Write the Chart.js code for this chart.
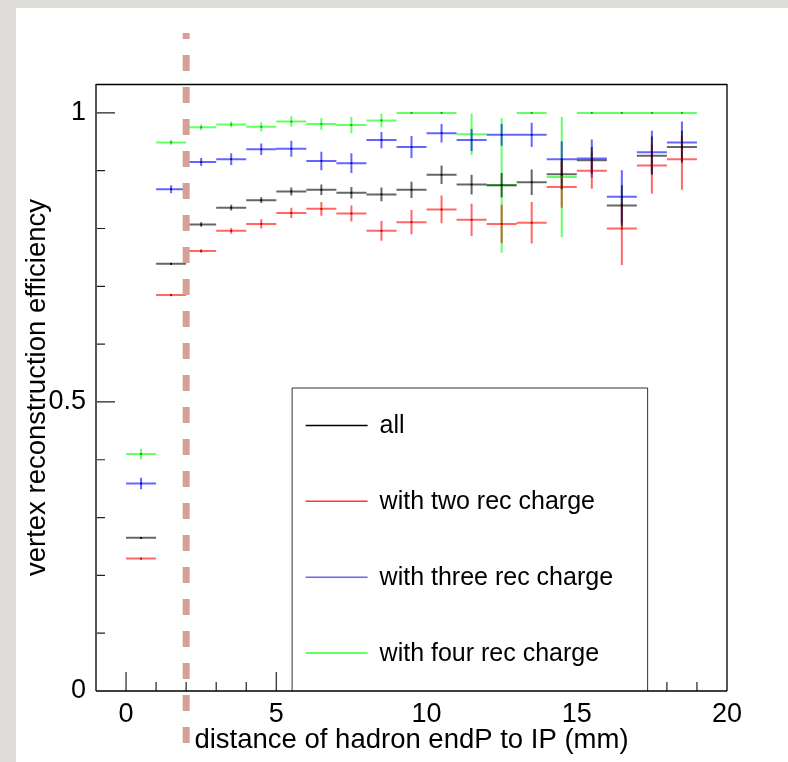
<!DOCTYPE html>
<html>
<head>
<meta charset="utf-8">
<title>vertex reconstruction efficiency</title>
<script src="https://cdn.jsdelivr.net/npm/chart.js@4.4.1/dist/chart.umd.min.js"></script>
<style>
    html, body { margin: 0; padding: 0; background: #fff; }
    #wrap { width: 788px; height: 762px; }
</style>
</head>
<body>
<div id="wrap"><canvas id="eff-chart" width="788" height="762"></canvas></div>
<script>
// Bin centres (mm), each bin 1 mm wide
var distance = [0.5, 1.5, 2.5, 3.5, 4.5, 5.5, 6.5, 7.5, 8.5, 9.5, 10.5, 11.5, 12.5, 13.5, 14.5, 15.5, 16.5, 17.5, 18.5];
var binWidth = 1;

// all
var effAll   = [0.265, 0.739, 0.807, 0.836, 0.849, 0.864, 0.867, 0.862, 0.859, 0.867, 0.893, 0.876, 0.875, 0.880, 0.894, 0.918, 0.840, 0.926, 0.941];
var errAllUp = [0.002, 0.002, 0.004, 0.005, 0.005, 0.007, 0.009, 0.010, 0.012, 0.014, 0.016, 0.017, 0.021, 0.022, 0.026, 0.023, 0.035, 0.033, 0.028];
var errAllDn = [0.002, 0.002, 0.004, 0.005, 0.005, 0.007, 0.009, 0.010, 0.012, 0.014, 0.016, 0.017, 0.021, 0.022, 0.026, 0.023, 0.037, 0.033, 0.025];

// with two rec charge
var effTwo   = [0.229, 0.685, 0.761, 0.796, 0.808, 0.827, 0.834, 0.826, 0.796, 0.811, 0.833, 0.815, 0.808, 0.810, 0.872, 0.900, 0.800, 0.909, 0.920];
var errTwoUp = [0.002, 0.002, 0.003, 0.005, 0.008, 0.009, 0.012, 0.014, 0.017, 0.021, 0.024, 0.028, 0.033, 0.036, 0.044, 0.031, 0.045, 0.036, 0.040];
var errTwoDn = [0.002, 0.002, 0.003, 0.005, 0.008, 0.009, 0.012, 0.014, 0.017, 0.021, 0.024, 0.028, 0.033, 0.036, 0.036, 0.031, 0.063, 0.049, 0.053];

// with three rec charge
var effThree   = [0.359, 0.868, 0.915, 0.920, 0.937, 0.938, 0.917, 0.913, 0.953, 0.941, 0.965, 0.953, 0.962, 0.962, 0.920, 0.921, 0.855, 0.932, 0.949];
var errThreeUp = [0.010, 0.007, 0.007, 0.010, 0.010, 0.014, 0.016, 0.017, 0.014, 0.019, 0.016, 0.019, 0.019, 0.021, 0.031, 0.033, 0.046, 0.037, 0.036];
var errThreeDn = [0.010, 0.007, 0.007, 0.010, 0.010, 0.014, 0.016, 0.017, 0.014, 0.019, 0.016, 0.019, 0.019, 0.021, 0.031, 0.033, 0.046, 0.037, 0.036];

// with four rec charge
var effFour   = [0.410, 0.949, 0.975, 0.980, 0.976, 0.985, 0.981, 0.979, 0.987, 1.000, 1.000, 0.963, 0.875, 1.000, 0.889, 1.000, 1.000, 1.000, 1.000];
var errFourUp = [0.009, 0.004, 0.005, 0.005, 0.008, 0.009, 0.010, 0.014, 0.012, 0, 0, 0.036, 0.116, 0, 0.104, 0, 0, 0, 0];
var errFourDn = [0.009, 0.004, 0.005, 0.005, 0.008, 0.009, 0.010, 0.014, 0.012, 0, 0, 0.036, 0.117, 0, 0.104, 0, 0, 0, 0];

var xTicks = [0, 5, 10, 15, 20];
var yTicks = [0, 0.5, 1];
var legendLabels = ["all", "with two rec charge", "with three rec charge", "with four rec charge"];
var cutDistance = 2;

(function () {
    "use strict";

    var FONT = "'Liberation Sans', Arial, Helvetica, sans-serif";
    var lineColors = ["rgba(0,0,0,0.6)", "rgba(255,0,0,0.6)", "rgba(0,0,255,0.6)", "rgba(0,255,0,0.6)"];
    var dotColors = ["#000", "#a00", "#00a", "#0a0"];
    var legendColors = ["#000", "#f33", "#66f", "#3f3"];
    var errUp = [errAllUp, errTwoUp, errThreeUp, errFourUp];
    var errDn = [errAllDn, errTwoDn, errThreeDn, errFourDn];

    function points(values) {
        return distance.map(function (x, i) { return { x: x, y: values[i] }; });
    }

    // ROOT-like frame, ticks, error bars, legend
    var rootStyle = {
        id: "rootStyle",
        beforeDraw: function (chart) {
            var ctx = chart.ctx;
            ctx.save();
            ctx.fillStyle = "#dddcd8";
            ctx.fillRect(0, 0, chart.width, chart.height);
            ctx.fillStyle = "#ffffff";
            ctx.fillRect(16, 8, chart.width - 16, chart.height - 8);
            ctx.restore();
        },
        beforeDatasetsDraw: function (chart) {
            var ctx = chart.ctx, a = chart.chartArea;
            var sx = chart.scales.x, sy = chart.scales.y;
            ctx.save();

            // inward ticks
            ctx.strokeStyle = "#222";
            ctx.lineWidth = 1.2;
            ctx.beginPath();
            for (var t = 0; t <= 19; t++) {
                var px = sx.getPixelForValue(t);
                var len = (t % 5 === 0) ? 19 : 9;
                ctx.moveTo(px, a.bottom);
                ctx.lineTo(px, a.bottom - len);
            }
            for (var k = 1; k <= 10; k++) {
                var py = sy.getPixelForValue(k / 10);
                var ylen = (k % 5 === 0) ? 19 : 9;
                ctx.moveTo(a.left, py);
                ctx.lineTo(a.left + ylen, py);
            }
            ctx.stroke();

            // error bars, green first so black ends on top
            ctx.lineWidth = 2;
            for (var d = chart.data.datasets.length - 1; d >= 0; d--) {
                var vals = chart.data.datasets[d].data;
                ctx.strokeStyle = lineColors[d];
                ctx.beginPath();
                for (var i = 0; i < vals.length; i++) {
                    var cx = sx.getPixelForValue(vals[i].x);
                    var x0 = sx.getPixelForValue(vals[i].x - binWidth / 2);
                    var x1 = sx.getPixelForValue(vals[i].x + binWidth / 2);
                    var cy = sy.getPixelForValue(vals[i].y);
                    ctx.moveTo(x0, cy);
                    ctx.lineTo(x1, cy);
                    ctx.moveTo(cx, sy.getPixelForValue(vals[i].y + errUp[d][i]));
                    ctx.lineTo(cx, sy.getPixelForValue(vals[i].y - errDn[d][i]));
                }
                ctx.stroke();
            }
            ctx.restore();
        },
        afterDatasetsDraw: function (chart) {
            var ctx = chart.ctx, a = chart.chartArea;
            var sx = chart.scales.x;
            var w = a.right - a.left, h = a.bottom - a.top;
            ctx.save();

            // legend box
            var lx0 = a.left + 0.31 * w, lx1 = a.left + 0.875 * w;
            var ly0 = a.top + 0.5 * h, ly1 = a.bottom;
            ctx.fillStyle = "#fff";
            ctx.fillRect(lx0, ly0, lx1 - lx0, ly1 - ly0);
            ctx.strokeStyle = "#333";
            ctx.lineWidth = 1;
            ctx.beginPath();
            ctx.moveTo(lx0 + 0.5, ly1);
            ctx.lineTo(lx0 + 0.5, ly0 + 0.5);
            ctx.lineTo(lx1 - 0.5, ly0 + 0.5);
            ctx.lineTo(lx1 - 0.5, ly1);
            ctx.stroke();

            var slot = (ly1 - ly0) / legendLabels.length;
            ctx.font = "25px " + FONT;
            ctx.textBaseline = "middle";
            ctx.textAlign = "left";
            legendLabels.forEach(function (label, i) {
                var yy = ly0 + slot * (i + 0.5);
                ctx.strokeStyle = legendColors[i];
                ctx.lineWidth = 1.5;
                ctx.beginPath();
                ctx.moveTo(lx0 + 14, yy);
                ctx.lineTo(lx0 + 76, yy);
                ctx.stroke();
                ctx.fillStyle = "#000";
                ctx.fillText(label, lx0 + 88, yy + 1);
            });

            // frame
            ctx.lineWidth = 2;
            ctx.strokeStyle = "#555";
            ctx.beginPath();
            ctx.moveTo(a.left, a.top);
            ctx.lineTo(a.left, a.bottom);
            ctx.moveTo(a.right, a.top);
            ctx.lineTo(a.right, a.bottom);
            ctx.stroke();
            ctx.lineWidth = 1.5;
            ctx.strokeStyle = "#000";
            ctx.beginPath();
            ctx.moveTo(a.left, a.top + 0.5);
            ctx.lineTo(a.right, a.top + 0.5);
            ctx.moveTo(a.left, a.bottom);
            ctx.lineTo(a.right, a.bottom);
            ctx.stroke();

            // dashed cut line
            var cx = sx.getPixelForValue(cutDistance);
            ctx.strokeStyle = "#d6a096";
            ctx.lineWidth = 7;
            ctx.setLineDash([16, 16]);
            ctx.lineDashOffset = 10;
            ctx.beginPath();
            ctx.moveTo(cx, 33);
            ctx.lineTo(cx, 745);
            ctx.stroke();
            ctx.restore();
        }
    };

    function series(label, values, i) {
        return {
            label: label,
            data: points(values),
            showLine: false,
            pointStyle: "rect",
            pointRadius: 1.3,
            pointBorderWidth: 0,
            pointBackgroundColor: dotColors[i],
            borderColor: dotColors[i]
        };
    }

    var ctx = document.getElementById("eff-chart").getContext("2d");
    var effChart = new Chart(ctx, {
        type: "scatter",
        data: {
            datasets: [
                series(legendLabels[0], effAll, 0),
                series(legendLabels[1], effTwo, 1),
                series(legendLabels[2], effThree, 2),
                series(legendLabels[3], effFour, 3)
            ]
        },
        options: {
            responsive: false,
            animation: false,
            devicePixelRatio: 1,
            layout: { padding: { left: 0, top: 84, right: 61, bottom: 0 } },
            plugins: {
                legend: { display: false },
                tooltip: { enabled: false }
            },
            scales: {
                x: {
                    type: "linear",
                    min: -1,
                    max: 20,
                    grid: { display: false, drawTicks: false, tickLength: 0 },
                    border: { display: false },
                    afterBuildTicks: function (s) {
                        s.ticks = xTicks.map(function (v) { return { value: v }; });
                    },
                    afterFit: function (s) { s.height = 71; },
                    ticks: {
                        color: "#000",
                        font: { family: FONT, size: 27 },
                        padding: 7,
                        maxRotation: 0,
                        autoSkip: false
                    },
                    title: {
                        display: true,
                        text: "distance of hadron endP to IP (mm)",
                        color: "#000",
                        font: { family: FONT, size: 27.5 },
                        padding: { top: 0, bottom: 5 }
                    }
                },
                y: {
                    type: "linear",
                    min: 0,
                    max: 1.05,
                    grid: { display: false, drawTicks: false, tickLength: 0 },
                    border: { display: false },
                    afterBuildTicks: function (s) {
                        s.ticks = yTicks.map(function (v) { return { value: v }; });
                    },
                    afterFit: function (s) { s.width = 96; },
                    ticks: {
                        color: "#000",
                        font: { family: FONT, size: 27 },
                        padding: 10,
                        callback: function (v) { return String(v); }
                    },
                    title: {
                        display: true,
                        text: "vertex reconstruction efficiency",
                        color: "#000",
                        font: { family: FONT, size: 27.5 },
                        padding: { top: 21, bottom: 0 }
                    }
                }
            }
        },
        plugins: [rootStyle]
    });
})();
</script>
</body>
</html>
